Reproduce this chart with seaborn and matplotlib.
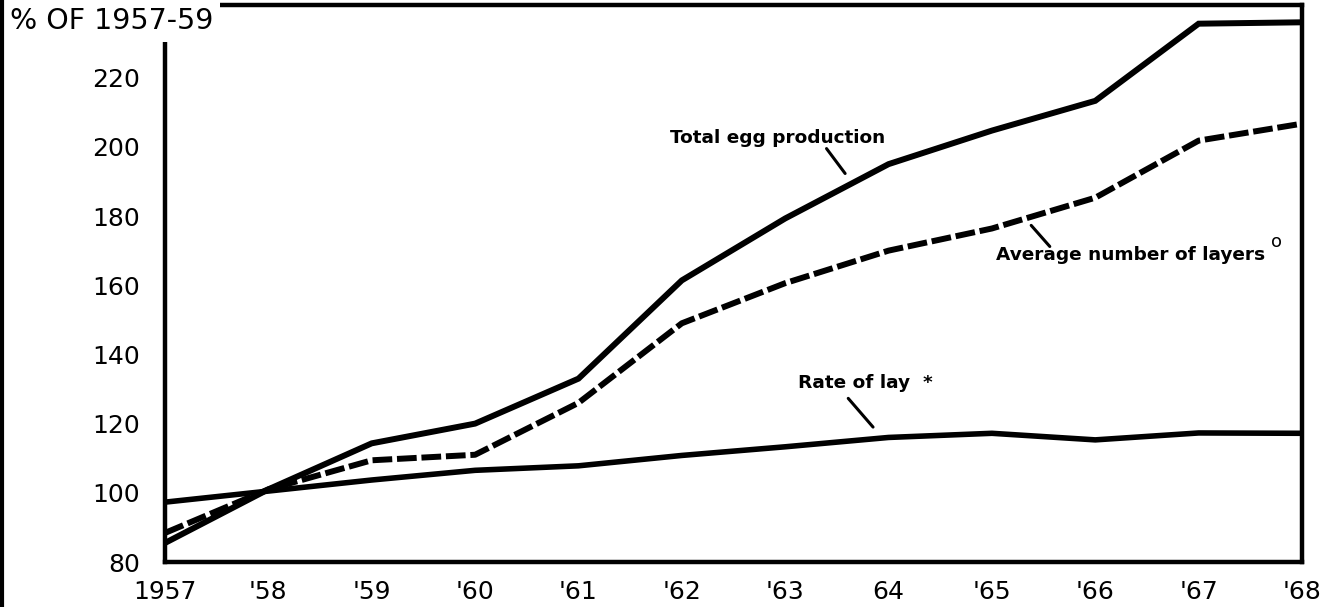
import matplotlib
matplotlib.use("Agg")
import matplotlib.pyplot as plt
import seaborn as sns
import pandas as pd
from matplotlib.lines import Line2D

years = [1957, 1958, 1959, 1960, 1961, 1962, 1963, 1964, 1965, 1966, 1967, 1968]
year_labels = ["1957", "'58", "'59", "'60", "'61", "'62", "'63", "64", "'65", "'66", "'67", "'68"]
total_egg = [85.5, 101, 114.3, 120, 133, 161.4, 179.3, 195, 204.7, 213.3, 235.6, 236]
avg_layers = [88.4, 101, 109.4, 111, 126, 149, 160.6, 170, 176.4, 185.3, 201.8, 206.7]
rate_of_lay = [97.3, 100.5, 103.7, 106.5, 107.8, 110.8, 113.3, 116, 117.2, 115.3, 117.3, 117.2]
y_ticks = [80, 100, 120, 140, 160, 180, 200, 220]

sns.set_style("white")
plt.rcParams['font.family'] = ['DejaVu Sans']

df = pd.DataFrame({"year": years, "total": total_egg, "layers": avg_layers, "rate": rate_of_lay})

fig = plt.figure(figsize=(13.38, 6.07), dpi=100)
ax = fig.add_axes([165/1338, 1-562/607, (1302-165)/1338, (562-5)/607])

sns.lineplot(data=df, x="year", y="total", ax=ax, color="black", lw=4.3,
             solid_joinstyle="miter", solid_capstyle="butt")
sns.lineplot(data=df, x="year", y="layers", ax=ax, color="black", lw=4.3,
             dashes=False, linestyle=(0, (3.3, 0.8)))
sns.lineplot(data=df, x="year", y="rate", ax=ax, color="black", lw=4.0)

ax.set_xlim(1957, 1968)
ax.set_ylim(80, 241)
ax.set_xticks(years)
ax.set_xticklabels(year_labels)
ax.set_yticks(y_ticks)
ax.set_xlabel("")
ax.set_ylabel("")
ax.tick_params(axis="both", length=0, labelsize=18, colors="black")
ax.tick_params(axis="y", pad=18)
ax.tick_params(axis="x", pad=13)
for s in ax.spines.values():
    s.set_visible(True)
    s.set_color("black")
    s.set_linewidth(3.2)
ax.grid(False)

# Annotations
ax.text(1962.93, 202.7, "Total egg production", ha="center", va="center",
        fontsize=13.3, fontweight="bold", color="black")
ax.plot([1963.40, 1963.58], [199.5, 192.3], color="black", lw=2.2, solid_capstyle="round")

ax.text(1966.34, 168.6, "Average number of layers", ha="center", va="center",
        fontsize=13.3, fontweight="bold", color="black")
ax.text(1967.75, 172.6, "o", ha="center", va="center", fontsize=13, color="black")
ax.plot([1965.38, 1965.56], [177.3, 171.2], color="black", lw=2.2, solid_capstyle="round")

ax.text(1963.78, 131.7, "Rate of lay  *", ha="center", va="center",
        fontsize=13.3, fontweight="bold", color="black")
ax.plot([1963.61, 1963.85], [127.3, 119.0], color="black", lw=2.2, solid_capstyle="round")

# Title at top-left
fig.text(10/1338, 1-21/607, "% OF 1957-59", ha="left", va="center", fontsize=20.5,
         color="black", bbox=dict(facecolor="white", edgecolor="none", pad=5))

# left scan border (drawn above the title box)
fig.add_artist(Line2D([2/1338, 2/1338], [0, 1], color="black", lw=3,
                      transform=fig.transFigure, zorder=20))

fig.savefig("out.png", dpi=100)
